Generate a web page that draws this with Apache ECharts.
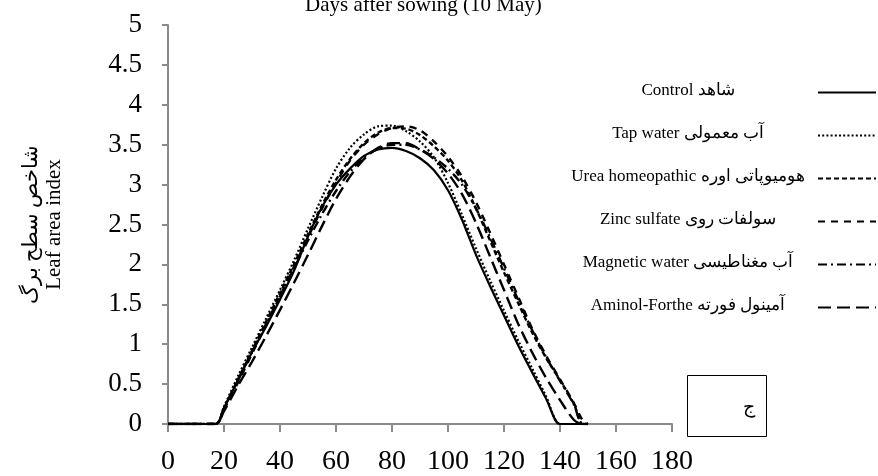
<!DOCTYPE html>
<html>
<head>
<meta charset="utf-8">
<script src="https://cdn.jsdelivr.net/npm/echarts@6/dist/echarts.min.js"></script>
<style>
html,body{margin:0;padding:0;background:#fff;}
#chart{width:878px;height:476px;}
</style>
</head>
<body>
<div id="chart"></div>
<script>
// ---- data ----
var days = [0, 17, 20, 25, 30, 35, 40, 45, 50, 55, 60, 65, 70, 75, 80, 85, 90, 95, 100, 105, 110, 115, 120, 125, 130, 135, 140, 145, 148, 150];
var control   = [0, 0, 0.20, 0.55, 0.90, 1.22, 1.56, 1.92, 2.35, 2.72, 3.00, 3.20, 3.36, 3.44, 3.46, 3.42, 3.33, 3.18, 2.93, 2.56, 2.12, 1.73, 1.36, 0.99, 0.65, 0.32, 0, 0, 0, 0];
var tapWater  = [0, 0, 0.22, 0.60, 0.96, 1.32, 1.68, 2.05, 2.45, 2.84, 3.20, 3.46, 3.63, 3.73, 3.74, 3.67, 3.54, 3.34, 3.02, 2.62, 2.20, 1.80, 1.42, 1.05, 0.70, 0.35, 0, 0, 0, 0];
var urea      = [0, 0, 0.20, 0.56, 0.92, 1.28, 1.64, 2.00, 2.38, 2.74, 3.06, 3.32, 3.52, 3.65, 3.71, 3.70, 3.62, 3.48, 3.30, 3.05, 2.70, 2.30, 1.90, 1.52, 1.15, 0.83, 0.55, 0.25, 0, 0];
var zinc      = [0, 0, 0.18, 0.52, 0.88, 1.24, 1.60, 1.97, 2.34, 2.70, 3.02, 3.30, 3.50, 3.63, 3.71, 3.73, 3.68, 3.54, 3.35, 3.10, 2.78, 2.40, 2.00, 1.60, 1.20, 0.86, 0.56, 0.26, 0.05, 0];
var magnetic  = [0, 0, 0.20, 0.55, 0.90, 1.25, 1.60, 1.95, 2.30, 2.63, 2.92, 3.16, 3.34, 3.45, 3.50, 3.50, 3.44, 3.34, 3.20, 3.00, 2.70, 2.34, 1.95, 1.56, 1.18, 0.84, 0.54, 0.24, 0, 0];
var aminol    = [0, 0, 0.16, 0.48, 0.78, 1.10, 1.43, 1.77, 2.12, 2.48, 2.82, 3.10, 3.32, 3.46, 3.52, 3.52, 3.44, 3.32, 3.14, 2.88, 2.52, 2.10, 1.68, 1.26, 0.90, 0.58, 0.30, 0.05, 0, 0];
var seriesNames = ['Control شاهد', 'Tap water آب معمولی', 'Urea homeopathic هومیوپاتی اوره', 'Zinc sulfate سولفات روی', 'Magnetic water آب مغناطیسی', 'Aminol-Forthe آمینول فورته'];
var xTicks = [0, 20, 40, 60, 80, 100, 120, 140, 160, 180];
var yTicks = [0, 0.5, 1, 1.5, 2, 2.5, 3, 3.5, 4, 4.5, 5];
var titleText = 'Days after sowing (10 May)';
var yName = 'شاخص سطح برگ\nLeaf area index';
var panelLabel = 'ج';

// ---- styles ----
var serif = "'Liberation Serif', 'Times New Roman', serif";
var values = [control, tapWater, urea, zinc, magnetic, aminol];
var dashTypes = ['solid', [2, 2.2], [5, 3], [7, 6], [9, 4, 2, 4], [13, 6]];
var widths = [2.2, 2.2, 2.4, 2.4, 2.4, 2.4];

function pairs(v) { return days.map(function (d, i) { return [d, v[i]]; }); }

var series = values.map(function (v, i) {
  return {
    name: seriesNames[i],
    type: 'line',
    data: pairs(v),
    symbol: 'none',
    showSymbol: false,
    smooth: 0.3,
    lineStyle: { color: '#000', width: widths[i], type: dashTypes[i] },
    itemStyle: { color: '#000' },
    z: 10 - i
  };
});

var axisGray = '#8a8a8a';
var chart = echarts.init(document.getElementById('chart'), null, { renderer: 'canvas' });
chart.setOption({
  animation: false,
  backgroundColor: '#fff',
  title: {
    text: titleText,
    left: 300,
    top: -10,
    textStyle: { fontFamily: serif, fontWeight: 'normal', fontSize: 21, color: '#000' }
  },
  grid: { left: 168, right: 206, top: 25, bottom: 51, containLabel: false },
  legend: {
    orient: 'vertical',
    align: 'right',
    right: -4,
    top: 77,
    itemWidth: 58,
    itemHeight: 14,
    itemGap: 22,
    selectedMode: false,
    data: seriesNames,
    itemStyle: { opacity: 0 },
    formatter: function (n) { return '{t|' + n + '}'; },
    textStyle: {
      rich: { t: { width: 250, align: 'center', fontSize: 17, fontFamily: serif, color: '#000', lineHeight: 20, padding: [0, 0, 4, 0] } }
    }
  },
  xAxis: {
    type: 'value',
    min: xTicks[0],
    max: xTicks[xTicks.length - 1],
    interval: xTicks[1] - xTicks[0],
    axisLine: { show: true, lineStyle: { color: axisGray, width: 2 } },
    axisTick: { show: true, length: 8, lineStyle: { color: axisGray, width: 2 } },
    axisLabel: { fontFamily: serif, fontSize: 28, color: '#000', margin: 24 },
    splitLine: { show: false }
  },
  yAxis: {
    type: 'value',
    min: yTicks[0],
    max: yTicks[yTicks.length - 1],
    interval: yTicks[1] - yTicks[0],
    name: yName,
    nameLocation: 'middle',
    nameRotate: 90,
    nameGap: 102,
    nameTextStyle: { fontFamily: serif, fontSize: 21, color: '#000', lineHeight: 23, align: 'center' },
    axisLine: { show: true, lineStyle: { color: axisGray, width: 2 } },
    axisTick: { show: true, length: 6, lineStyle: { color: axisGray, width: 2 } },
    axisLabel: { fontFamily: serif, fontSize: 27, color: '#000', margin: 26 },
    splitLine: { show: false }
  },
  graphic: [
    { type: 'rect', left: 687, top: 375, shape: { width: 79, height: 61 }, style: { fill: '#fff', stroke: '#000', lineWidth: 1 }, z: 100 },
    { type: 'text', left: 743, top: 399, style: { text: panelLabel, fontSize: 19, fontFamily: serif, fill: '#000' }, z: 101 }
  ],
  series: series
});
</script>
</body>
</html>
